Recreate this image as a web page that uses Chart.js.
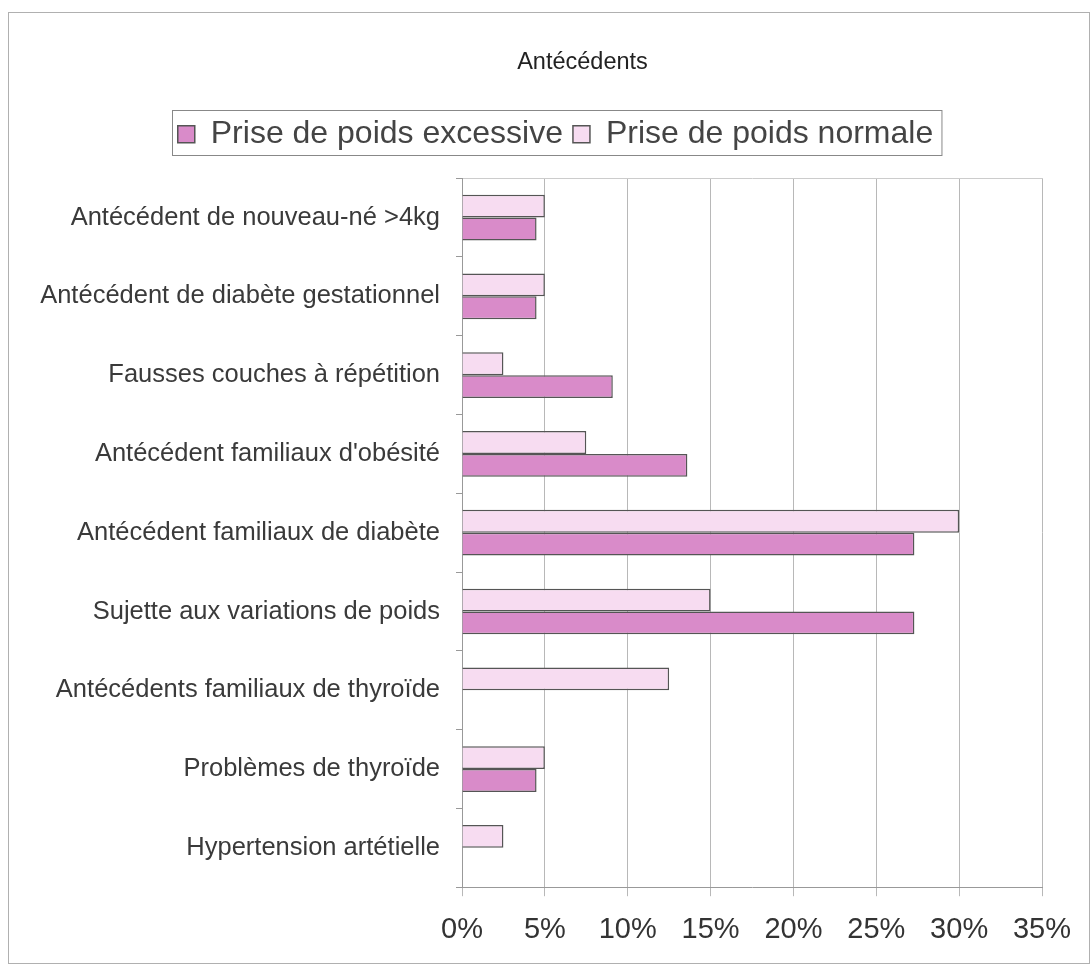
<!DOCTYPE html>
<html>
<head>
<meta charset="utf-8">
<script src="https://cdn.jsdelivr.net/npm/chart.js@4.4.1/dist/chart.umd.min.js"></script>
<style>
body { margin: 0; background: #fff; }
#box { position: absolute; left: 8px; top: 12px; width: 1080px; height: 950px; border: 1px solid #b0b0b0; }
</style>
</head>
<body>
<div id="box"><canvas id="myChart"></canvas></div>
<script>
var categories = [
    'Antécédent de nouveau-né >4kg',
    'Antécédent de diabète gestationnel',
    'Fausses couches à répétition',
    "Antécédent familiaux d'obésité",
    'Antécédent familiaux de diabète',
    'Sujette aux variations de poids',
    'Antécédents familiaux de thyroïde',
    'Problèmes de thyroïde',
    'Hypertension artétielle'
]
var excessive = [4.5, 4.5, 9.1, 13.6, 27.3, 27.3, 0, 4.5, 0]
var normale = [5, 5, 2.5, 7.5, 30, 15, 12.5, 5, 2.5]
var tickLabels = ['0%', '5%', '10%', '15%', '20%', '25%', '30%', '35%']

// excel look: legend in a frame, title + legend not centred on the canvas
var excelLook = {
    id: 'excelLook',
    beforeInit: function(chart) {
        // leave some room between legend and plot
        var fit = chart.legend.fit
        chart.legend.fit = function() {
            fit.bind(chart.legend)()
            this.height += 18
        }
    },
    afterLayout: function(chart) {
        chart.titleBlock.left += 57
        chart.titleBlock.right += 57
        chart.legend.left += 30
        chart.legend.right += 30
    },
    afterDraw: function(chart) {
        var boxes = chart.legend.legendHitBoxes
        if (!boxes || !boxes.length) return
        var l = boxes[0].left, r = 0, t = boxes[0].top, b = 0
        boxes.forEach(function(h) {
            l = Math.min(l, h.left)
            r = Math.max(r, h.left + h.width)
            t = Math.min(t, h.top)
            b = Math.max(b, h.top + h.height)
        })
        var ctx = chart.ctx
        ctx.save()
        ctx.strokeStyle = '#888'
        ctx.lineWidth = 1
        ctx.strokeRect(Math.round(l) - 5.5, Math.round(t) - 7.5, r - l + 14, b - t + 13)
        ctx.restore()
    }
}

Chart.defaults.font.family = "'Liberation Sans', Arial, sans-serif"
Chart.defaults.color = '#3a3a3a'

var ctx = document.getElementById('myChart')

var myChart = new Chart(ctx, {
    type: 'bar',
    data: {
        labels: categories,
        datasets: [
            {
                label: 'Prise de poids normale',
                data: normale,
                backgroundColor: '#f7dcf1',
                borderColor: '#555',
                borderWidth: 1.5
            },
            {
                label: 'Prise de poids excessive',
                data: excessive,
                backgroundColor: '#d98bc9',
                borderColor: '#555',
                borderWidth: 1.5
            }
        ]
    },
    options: {
        indexAxis: 'y',
        responsive: true,
        maintainAspectRatio: false,
        animation: false,
        categoryPercentage: 0.58,
        barPercentage: 1.0,
        layout: { padding: { left: 0, right: 47, top: 0, bottom: 0 } },
        plugins: {
            title: {
                display: true,
                text: 'Antécédents',
                font: { size: 23.5, weight: 'normal' },
                color: '#222',
                padding: { top: 35, bottom: 32 }
            },
            legend: {
                display: true,
                reverse: true,
                labels: {
                    font: { size: 32 },
                    color: '#444',
                    boxWidth: 17,
                    boxHeight: 17,
                    padding: 10
                }
            },
            tooltip: { enabled: false }
        },
        scales: {
            x: {
                min: 0,
                max: 35,
                ticks: {
                    stepSize: 5,
                    font: { size: 29 },
                    color: '#333',
                    padding: 16,
                    callback: function(value, index) { return tickLabels[index] }
                },
                grid: {
                    color: '#b8b8b8',
                    tickLength: 9
                },
                border: { color: '#999' }
            },
            x2: {
                type: 'linear',
                position: 'top',
                min: 0,
                max: 35,
                afterFit: function(scale) { scale.height = 0 },
                ticks: { display: false },
                grid: { drawOnChartArea: false, drawTicks: false },
                border: { color: '#ccc' }
            },
            y: {
                afterFit: function(scale) { scale.width = 453 },
                ticks: {
                    font: { size: 25.5 },
                    color: '#3a3a3a',
                    padding: 16,
                    autoSkip: false
                },
                grid: {
                    offset: true,
                    drawOnChartArea: false,
                    color: '#999',
                    tickLength: 6
                },
                border: { color: '#999' }
            }
        }
    },
    plugins: [excelLook]
})
</script>
</body>
</html>
